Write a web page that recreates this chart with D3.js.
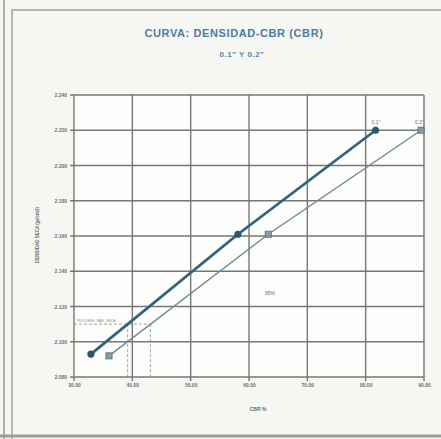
<!DOCTYPE html>
<html>
<head>
<meta charset="utf-8">
<script src="https://cdn.jsdelivr.net/npm/d3@7"></script>
<style>
  body { margin: 0; background: #f6f6f3; }
  svg { display: block; font-family: "Liberation Sans", Arial, sans-serif; }
</style>
</head>
<body>
<svg id="chart" width="441" height="439"></svg>
<script>
const xTicks = [30, 40, 50, 60, 70, 80, 90];
const yTicks = [2.08, 2.10, 2.12, 2.14, 2.16, 2.18, 2.20, 2.22, 2.24];

// CBR (%) vs dry density
const cbr01 = [32.9, 58.1, 81.7];
const dens01 = [2.093, 2.161, 2.220];
const cbr02 = [36.0, 63.3, 89.5];
const dens02 = [2.092, 2.161, 2.220];

const dens95 = 2.110;
const cbr95 = [39.2, 43.1];

const width = 441, height = 439;
const plot = { left: 74, right: 424, top: 95, bottom: 377 };

const svg = d3.select('#chart');

// page frame
svg.append('rect').attr('width', width).attr('height', height).attr('fill', '#f6f6f3');
svg.append('line').attr('x1', 4).attr('x2', 4).attr('y1', 0).attr('y2', height)
  .attr('stroke', '#9a9a9a').attr('stroke-width', 1.5);
svg.append('path').attr('d', `M12,${height} V10 H${width}`)
  .attr('fill', 'none').attr('stroke', '#a0a0a0').attr('stroke-width', 1.5);
svg.append('line').attr('x1', 0).attr('x2', width).attr('y1', 436).attr('y2', 436)
  .attr('stroke', '#9c9c9c').attr('stroke-width', 3);

const x = d3.scaleLinear().domain([30, 90]).range([plot.left, plot.right]);
const y = d3.scaleLinear().domain([2.08, 2.24]).range([plot.bottom, plot.top]);

svg.append('rect')
  .attr('x', plot.left).attr('y', plot.top)
  .attr('width', plot.right - plot.left).attr('height', plot.bottom - plot.top)
  .attr('fill', '#fdfdfc');

// grid
svg.append('g').selectAll('line').data(xTicks).join('line')
  .attr('x1', d => x(d)).attr('x2', d => x(d))
  .attr('y1', plot.top).attr('y2', plot.bottom + 4)
  .attr('stroke', '#767676').attr('stroke-width', 1.4);
svg.append('g').selectAll('line').data(yTicks).join('line')
  .attr('x1', plot.left - 4).attr('x2', plot.right)
  .attr('y1', d => y(d)).attr('y2', d => y(d))
  .attr('stroke', '#767676').attr('stroke-width', 1.4);

// axes (labels only, grid drawn above)
const xAxis = svg.append('g')
  .attr('transform', `translate(0,${plot.bottom})`)
  .call(d3.axisBottom(x).tickValues(xTicks).tickFormat(d3.format('.2f')).tickSize(0).tickPadding(6));
const yAxis = svg.append('g')
  .attr('transform', `translate(${plot.left},0)`)
  .call(d3.axisLeft(y).tickValues(yTicks).tickFormat(d3.format('.3f')).tickSize(0).tickPadding(7));
[xAxis, yAxis].forEach(g => {
  g.select('.domain').remove();
  g.selectAll('text').attr('fill', '#707070').attr('font-size', 5).attr('font-weight', 'bold');
});

// 95% reference lines
svg.append('line')
  .attr('x1', x(30)).attr('x2', x(cbr95[1]) + 3)
  .attr('y1', y(dens95)).attr('y2', y(dens95))
  .attr('stroke', '#8a8a8a').attr('stroke-width', 0.8).attr('stroke-dasharray', '3,2');
svg.append('g').selectAll('line').data(cbr95).join('line')
  .attr('x1', d => x(d)).attr('x2', d => x(d))
  .attr('y1', y(dens95)).attr('y2', plot.bottom)
  .attr('stroke', '#8a8a8a').attr('stroke-width', 0.8).attr('stroke-dasharray', '3,2');
svg.append('text')
  .attr('x', x(30) + 3).attr('y', y(dens95) - 2)
  .attr('font-size', 3.5).attr('fill', '#8a8a8a')
  .text('95% DENS. MAX. SECA');

const line = d3.line().x(d => x(d[0])).y(d => y(d[1]));

// 0.2" curve
const pts02 = d3.zip(cbr02, dens02);
svg.append('path').datum(pts02).attr('d', line)
  .attr('fill', 'none').attr('stroke', '#6f8b9a').attr('stroke-width', 1.5);
svg.append('g').selectAll('rect').data(pts02).join('rect')
  .attr('x', d => x(d[0]) - 3).attr('y', d => y(d[1]) - 3)
  .attr('width', 6).attr('height', 6)
  .attr('fill', '#909ca3').attr('stroke', '#5f7684').attr('stroke-width', 1);

// 0.1" curve
const pts01 = d3.zip(cbr01, dens01);
svg.append('path').datum(pts01).attr('d', line)
  .attr('fill', 'none').attr('stroke', '#33637b').attr('stroke-width', 2.8);
svg.append('g').selectAll('circle').data(pts01).join('circle')
  .attr('cx', d => x(d[0])).attr('cy', d => y(d[1]))
  .attr('r', 3.6)
  .attr('fill', '#2c5870');

svg.append('text').attr('x', x(cbr01[2]) - 4).attr('y', y(dens01[2]) - 6)
  .attr('font-size', 5).attr('fill', '#6a6a6a').text('0.1"');
svg.append('text').attr('x', x(cbr02[2]) - 6).attr('y', y(dens02[2]) - 6)
  .attr('font-size', 5).attr('fill', '#6a6a6a').text('0.2"');

svg.append('text').attr('x', 270).attr('y', 295).attr('text-anchor', 'middle')
  .attr('font-size', 5).attr('fill', '#6a6a6a').text('95%');

// titles
svg.append('text').attr('x', 234).attr('y', 37).attr('text-anchor', 'middle')
  .attr('font-size', 11).attr('font-weight', 'bold').attr('fill', '#4c7ca0')
  .attr('letter-spacing', 0.6)
  .text('CURVA:  DENSIDAD-CBR (CBR)');
svg.append('text').attr('x', 242).attr('y', 57).attr('text-anchor', 'middle')
  .attr('font-size', 8).attr('font-weight', 'bold').attr('fill', '#5a84a4')
  .attr('letter-spacing', 0.5)
  .text('0.1"  Y  0.2"');

svg.append('text').attr('x', 258).attr('y', 411).attr('text-anchor', 'middle')
  .attr('font-size', 5).attr('font-weight', 'bold').attr('fill', '#6a6a6a')
  .text('CBR %');
svg.append('text')
  .attr('transform', 'translate(39,235) rotate(-90)')
  .attr('text-anchor', 'middle')
  .attr('font-size', 4.5).attr('font-weight', 'bold').attr('fill', '#6a6a6a')
  .text('DENSIDAD SECA (gr/cm3)');
</script>
</body>
</html>
